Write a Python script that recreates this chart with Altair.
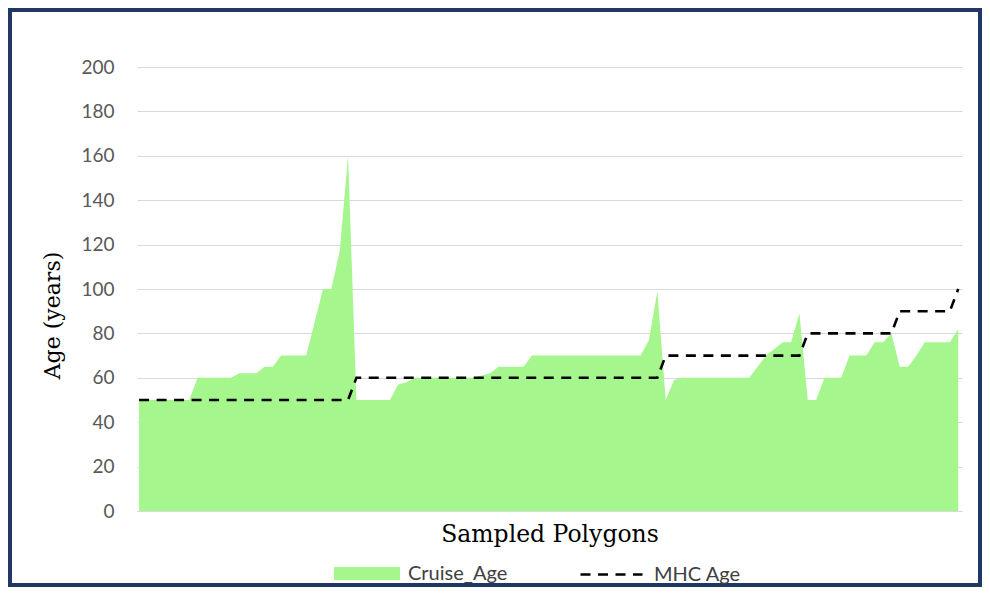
import altair as alt
import pandas as pd

# Cruise age per sampled polygon
cruise_age = (
    [50] * 7 + [60] * 5 + [62] * 3 + [65] * 2 + [70] * 4
    + [85, 100, 100, 117, 160]
    + [50] * 5 + [57, 58] + [60] * 8 + [61, 62] + [65] * 4 + [70] * 14
    + [77, 99, 50, 59] + [60] * 9 + [65, 70, 73, 76, 76, 89]
    + [50, 50] + [60] * 3 + [70] * 3 + [76] * 2 + [80] + [65] * 2 + [70]
    + [76] * 4 + [82]
)
# MHC age class per sampled polygon
mhc_age = [50] * 26 + [60] * 37 + [70] * 17 + [80] * 11 + [90] * 7 + [100]

series_names = ["Cruise_Age", "MHC Age"]
y_ticks = list(range(0, 201, 20))

df = pd.DataFrame({
    "i": list(range(len(cruise_age))),
    "cruise": cruise_age,
    "mhc": mhc_age,
    "s_area": series_names[0],
    "s_line": series_names[1],
})

W, H = 825, 444
GREEN = "#a6f68e"

x_axis = alt.Axis(
    title="Sampled Polygons", labels=False, ticks=False, grid=False,
    domain=True, domainColor="#d9d9d9",
    titleFont="DejaVu Serif", titleFontSize=23.5, titleFontWeight="normal",
    titleColor="#000000", titlePadding=11,
)
x_scale = alt.Scale(domain=[-0.25, 98.45], nice=False, zero=False)

y_axis = alt.Axis(
    title="Age (years)", values=y_ticks, grid=True, gridColor="#d9d9d9",
    gridWidth=1, domain=False, ticks=False, labelFont="Lato",
    labelFontSize=19, labelColor="#595959", labelPadding=23,
    titleFont="DejaVu Serif", titleFontSize=22, titleFontWeight="normal",
    titleColor="#000000", titleY=248, titlePadding=16,
)
y_scale = alt.Scale(domain=[0, 200], nice=False)

border = alt.Chart(pd.DataFrame({"k": [0]})).mark_rect(
    filled=False, stroke="#203864", strokeWidth=4, clip=False
).encode(
    x=alt.value(-127), x2=alt.value(W + 18),
    y=alt.value(-57), y2=alt.value(H + 74),
)

area = alt.Chart(df).mark_area(opacity=1, line=False).encode(
    x=alt.X("i:Q", scale=x_scale, axis=x_axis),
    y=alt.Y("cruise:Q", scale=y_scale, axis=y_axis),
    fill=alt.Fill(
        "s_area:N",
        scale=alt.Scale(domain=[series_names[0]], range=[GREEN]),
        legend=alt.Legend(
            title=None, orient="none", legendX=197, legendY=473.5,
            symbolType="M-1,-0.2H1V0.2H-1Z", symbolSize=4356,
            symbolStrokeWidth=0, symbolOpacity=1, labelFont="Lato",
            labelFontSize=20, labelColor="#404040", labelOffset=8,
        ),
    ),
)

line = alt.Chart(df).mark_line(color="black", strokeWidth=2.6).encode(
    x=alt.X("i:Q", scale=x_scale, axis=x_axis),
    y=alt.Y("mhc:Q", scale=y_scale, axis=y_axis),
    strokeDash=alt.StrokeDash(
        "s_line:N",
        scale=alt.Scale(domain=[series_names[1]], range=[[10, 7.5]]),
        legend=alt.Legend(
            title=None, orient="none", legendX=442, legendY=475,
            symbolType="stroke", symbolSize=3844, symbolStrokeColor="black",
            symbolStrokeWidth=2.6, labelFont="Lato", labelFontSize=20,
            labelColor="#404040", labelOffset=10,
        ),
    ),
)

chart = alt.layer(border, area, line).resolve_scale(y="shared").properties(
    width=W, height=H, autosize="none",
    padding={"left": 129, "top": 59, "right": 20, "bottom": 76},
    background="white",
).configure_view(strokeWidth=0)

chart.save("out.html", embed_options={"renderer": "svg", "actions": False})
